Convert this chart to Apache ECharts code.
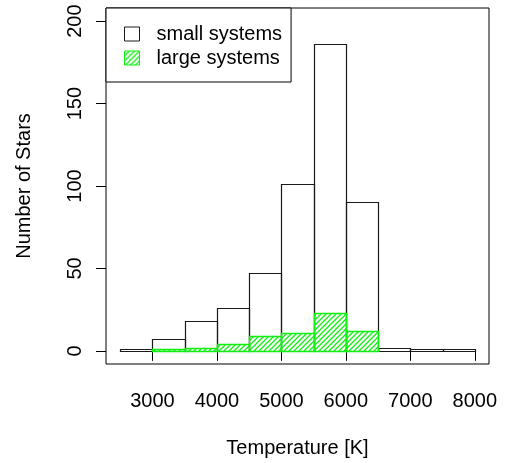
<!DOCTYPE html>
<html>
<head>
<meta charset="utf-8">
<script src="https://cdn.jsdelivr.net/npm/echarts@6/dist/echarts.min.js"></script>
<style>
  html, body { margin: 0; padding: 0; background: #ffffff; }
  #chart { width: 505px; height: 463px; }
</style>
</head>
<body>
<div id="chart"></div>
<script>
// Histogram bin edges (K) and star counts per bin
const binEdges = [2500, 3000, 3500, 4000, 4500, 5000, 5500, 6000, 6500, 7000, 7500, 8000];
const smallSystems = [1, 7, 18, 26, 47, 101, 186, 90, 2, 1, 1];
const largeSystems = [0, 1, 2, 4, 9, 11, 23, 12, 0, 0, 0];
const xTicks = [3000, 4000, 5000, 6000, 7000, 8000];
const yTicks = [0, 50, 100, 150, 200];

const FONT = '"Liberation Sans", Arial, Helvetica, sans-serif';
const FS = 20;
const GREEN = '#11ee11';
const INK = '#1a1a1a';

// Diagonal hatch fill for the large-systems histogram
function makeHatch(step) {
  const c = document.createElement('canvas');
  c.width = step; c.height = step;
  const ctx = c.getContext('2d');
  ctx.strokeStyle = GREEN;
  ctx.lineWidth = 1.3;
  ctx.beginPath();
  ctx.moveTo(-1, step + 1); ctx.lineTo(step + 1, -1);
  ctx.moveTo(-1, 1); ctx.lineTo(1, -1);
  ctx.moveTo(step - 1, step + 1); ctx.lineTo(step + 1, step - 1);
  ctx.stroke();
  return c;
}
const hatch = { image: makeHatch(5), repeat: 'repeat' };

function toBins(counts, skipEmpty) {
  const out = [];
  counts.forEach((n, i) => {
    if (skipEmpty && n === 0) return;
    out.push([binEdges[i], binEdges[i + 1], n]);
  });
  return out;
}

function histRenderer(fill, stroke, width) {
  return function (params, api) {
    const top = api.coord([api.value(0), api.value(2)]);
    const base = api.coord([api.value(1), 0]);
    const x0 = Math.round(top[0]) + 0.5;
    const x1 = Math.round(base[0]) + 0.5;
    const y0 = Math.round(top[1]) + 0.5;
    const y1 = Math.round(base[1]) + 0.5;
    return {
      type: 'rect',
      shape: { x: x0, y: y0, width: x1 - x0, height: y1 - y0 },
      style: { fill: fill, stroke: stroke, lineWidth: width }
    };
  };
}

const plainNumber = v => String(v);

const chart = echarts.init(document.getElementById('chart'), null, { renderer: 'canvas' });

chart.setOption({
  animation: false,
  backgroundColor: '#ffffff',
  textStyle: { fontFamily: FONT },
  grid: {
    left: 106, right: 16, top: 8, bottom: 97,
    show: true, borderColor: '#000000', borderWidth: 1, backgroundColor: 'transparent'
  },
  legend: {
    orient: 'vertical',
    left: 106, top: 8,
    padding: [16, 9, 14, 18],
    itemWidth: 15, itemHeight: 14, itemGap: 4,
    borderColor: '#000000', borderWidth: 1,
    backgroundColor: '#ffffff',
    textStyle: { fontFamily: FONT, fontSize: FS, color: '#000000', padding: [0, 0, 0, 12] },
    data: [
      { name: 'small systems', icon: 'rect',
        itemStyle: { color: '#ffffff', borderColor: INK, borderWidth: 1 } },
      { name: 'large systems', icon: 'rect',
        itemStyle: { color: hatch, borderColor: GREEN, borderWidth: 1 } }
    ]
  },
  xAxis: {
    type: 'value', min: 2280, max: 8220,
    name: 'Temperature [K]', nameLocation: 'middle', nameGap: 74,
    nameTextStyle: { fontFamily: FONT, fontSize: FS, color: '#000000' },
    axisLine: { show: false },
    splitLine: { show: false },
    axisTick: { show: true, inside: false, length: 10, customValues: xTicks,
      lineStyle: { color: '#000000', width: 1 } },
    axisLabel: { customValues: xTicks, formatter: plainNumber, margin: 27,
      fontFamily: FONT, fontSize: FS, color: '#000000' }
  },
  yAxis: {
    type: 'value', min: -8, max: 208,
    name: 'Number of Stars', nameLocation: 'middle', nameGap: 72,
    nameTextStyle: { fontFamily: FONT, fontSize: FS, color: '#000000' },
    axisLine: { show: false },
    splitLine: { show: false },
    axisTick: { show: true, inside: false, length: 10, customValues: yTicks,
      lineStyle: { color: '#000000', width: 1 } },
    axisLabel: { customValues: yTicks, formatter: plainNumber, rotate: 90, margin: 21,
      fontFamily: FONT, fontSize: FS, color: '#000000' }
  },
  series: [
    {
      name: 'small systems', type: 'custom',
      renderItem: histRenderer('transparent', INK, 1.2),
      encode: { x: [0, 1], y: 2 },
      itemStyle: { color: '#ffffff', borderColor: INK },
      data: toBins(smallSystems, false),
      z: 2
    },
    {
      name: 'large systems', type: 'custom',
      renderItem: histRenderer(hatch, GREEN, 1.4),
      encode: { x: [0, 1], y: 2 },
      itemStyle: { color: hatch, borderColor: GREEN },
      data: toBins(largeSystems, true),
      z: 3
    }
  ]
});
</script>
</body>
</html>
